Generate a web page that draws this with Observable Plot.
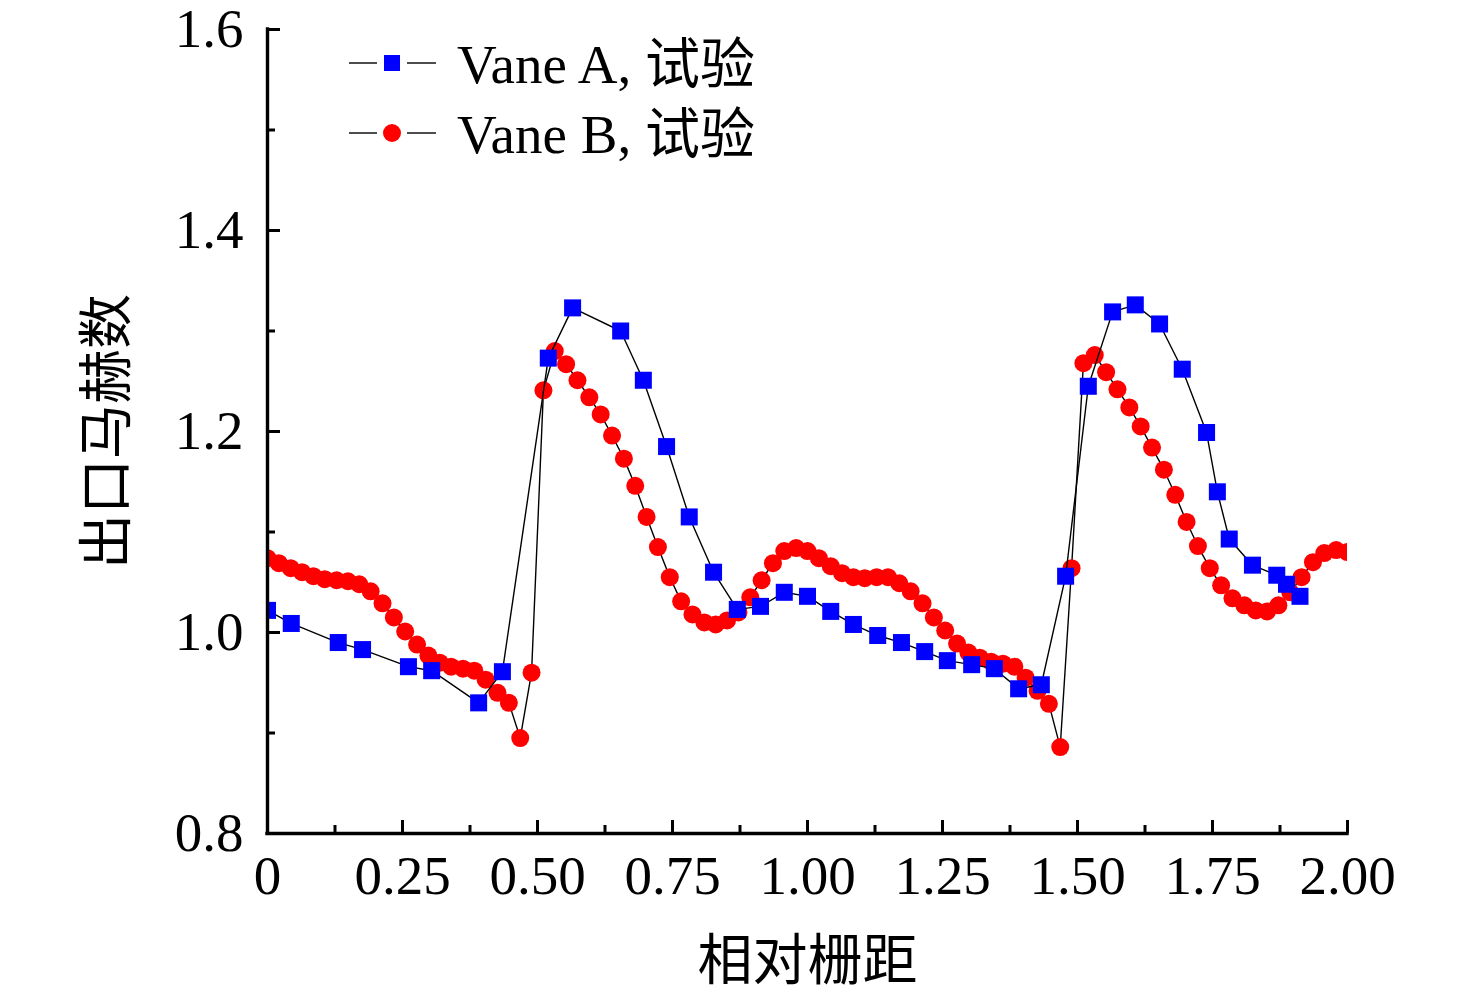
<!DOCTYPE html>
<html>
<head>
<meta charset="utf-8">
<script src="https://cdn.jsdelivr.net/npm/d3@7"></script>
<script src="https://cdn.jsdelivr.net/npm/@observablehq/plot@0.6"></script>
<style>
  body { margin: 0; background: #fff; }
  #chart { width: 1476px; height: 996px; }
</style>
</head>
<body>
<div id="chart"></div>
<script>
// ---- Text ----
const xLabel = "相对栅距";
const yLabel = "出口马赫数";
const seriesNames = ["Vane A, 试验", "Vane B, 试验"];

// ---- Ticks ----
const xTicks = [0, 0.25, 0.5, 0.75, 1.0, 1.25, 1.5, 1.75, 2.0];
const xTickLabels = ["0", "0.25", "0.50", "0.75", "1.00", "1.25", "1.50", "1.75", "2.00"];
const xMinorTicks = [0.125, 0.375, 0.625, 0.875, 1.125, 1.375, 1.625, 1.875];
const yTicks = [0.8, 1.0, 1.2, 1.4, 1.6];
const yTickLabels = ["0.8", "1.0", "1.2", "1.4", "1.6"];
const yMinorTicks = [0.9, 1.1, 1.3, 1.5];

// ---- Vane A (blue squares) ----
const vaneAX = [0.000, 0.044, 0.131, 0.176, 0.261, 0.304, 0.391, 0.435, 0.520, 0.565,
                0.654, 0.696, 0.739, 0.781, 0.826, 0.870, 0.913, 0.957, 1.000, 1.043,
                1.085, 1.130, 1.174, 1.217, 1.259, 1.304, 1.346, 1.391, 1.433, 1.478,
                1.520, 1.565, 1.607, 1.652, 1.694, 1.739, 1.759, 1.781, 1.824, 1.869,
                1.887, 1.912];
const vaneAY = [1.022, 1.009, 0.990, 0.983, 0.966, 0.962, 0.930, 0.961, 1.273, 1.323,
                1.300, 1.251, 1.185, 1.115, 1.060, 1.023, 1.026, 1.040, 1.036, 1.021,
                1.008, 0.997, 0.990, 0.981, 0.972, 0.968, 0.964, 0.944, 0.948, 1.056,
                1.245, 1.319, 1.326, 1.307, 1.262, 1.199, 1.140, 1.093, 1.067, 1.057,
                1.048, 1.036];

// ---- Vane B (red circles) ----
const vaneBX = [0.000, 0.021, 0.043, 0.064, 0.085, 0.106, 0.128, 0.149, 0.170, 0.191,
                0.213, 0.234, 0.255, 0.277, 0.298, 0.319, 0.340, 0.362, 0.383, 0.404,
                0.426, 0.447, 0.468, 0.489, 0.511, 0.532, 0.553, 0.574, 0.596, 0.617,
                0.638, 0.660, 0.681, 0.702, 0.723, 0.745, 0.766, 0.787, 0.809, 0.830,
                0.851, 0.872, 0.894, 0.915, 0.936, 0.957, 0.979, 1.000, 1.021, 1.043,
                1.064, 1.085, 1.106, 1.128, 1.149, 1.170, 1.191, 1.213, 1.234, 1.255,
                1.277, 1.298, 1.319, 1.340, 1.362, 1.383, 1.404, 1.426, 1.447, 1.468,
                1.489, 1.511, 1.532, 1.553, 1.574, 1.596, 1.617, 1.638, 1.660, 1.681,
                1.702, 1.723, 1.745, 1.766, 1.787, 1.809, 1.830, 1.851, 1.872, 1.894,
                1.915, 1.936, 1.957, 1.979, 2.000];
const vaneBY = [1.074, 1.069, 1.064, 1.060, 1.056, 1.053, 1.052, 1.051, 1.048, 1.041,
                1.029, 1.015, 1.001, 0.988, 0.977, 0.970, 0.966, 0.964, 0.962, 0.953,
                0.940, 0.930, 0.895, 0.960, 1.241, 1.280, 1.267, 1.251, 1.234, 1.217,
                1.196, 1.173, 1.146, 1.115, 1.085, 1.055, 1.031, 1.018, 1.010, 1.008,
                1.012, 1.020, 1.035, 1.052, 1.069, 1.081, 1.084, 1.081, 1.074, 1.066,
                1.059, 1.055, 1.054, 1.055, 1.055, 1.049, 1.041, 1.029, 1.015, 1.002,
                0.989, 0.980, 0.975, 0.971, 0.969, 0.966, 0.955, 0.942, 0.929, 0.886,
                1.064, 1.268, 1.276, 1.259, 1.242, 1.224, 1.205, 1.184, 1.162, 1.137,
                1.110, 1.086, 1.064, 1.047, 1.034, 1.027, 1.022, 1.021, 1.027, 1.040,
                1.055, 1.070, 1.079, 1.082, 1.080];

// ---- Build tables ----
const A = vaneAX.map((x, i) => ({x, y: vaneAY[i]}));
const B = vaneBX.map((x, i) => ({x, y: vaneBY[i]}));

const W = 1476, H = 996, mL = 267, mR = 129, mT = 29, mB = 163;
const fw = W - mL - mR, fh = H - mT - mB;
const serif = "'Liberation Serif', 'Times New Roman', serif";
const cjk = "'Noto Sans CJK SC', sans-serif";
const FS = 55;

const plot = Plot.plot({
  width: W, height: H,
  marginLeft: mL, marginRight: mR, marginTop: mT, marginBottom: mB,
  x: {domain: [0, 2]},
  y: {domain: [0.8, 1.6]},
  style: {fontFamily: serif, fontSize: FS + "px", color: "#000", background: "#fff"},
  marks: [
    Plot.line(B, {x: "x", y: "y", stroke: "#000", strokeWidth: 1.4, clip: true}),
    Plot.dot(B, {x: "x", y: "y", r: 9, fill: "#ff0000", symbol: "circle", clip: true}),
    Plot.line(A, {x: "x", y: "y", stroke: "#000", strokeWidth: 1.4, clip: true}),
    Plot.dot(A, {x: "x", y: "y", r: 9.6, fill: "#0000ff", symbol: "square", clip: true}),
    // axis lines
    Plot.ruleX([0], {stroke: "#000", strokeWidth: 3.4, strokeLinecap: "square"}),
    Plot.ruleY([0.8], {stroke: "#000", strokeWidth: 3.4, strokeLinecap: "square"}),
    // inward ticks
    Plot.tickY(yTicks, {y: d => d, insetRight: fw - 13, stroke: "#000", strokeWidth: 3}),
    Plot.tickY(yMinorTicks, {y: d => d, insetRight: fw - 8, stroke: "#000", strokeWidth: 3}),
    Plot.tickX(xTicks, {x: d => d, insetTop: fh - 13, stroke: "#000", strokeWidth: 3}),
    Plot.tickX(xMinorTicks, {x: d => d, insetTop: fh - 8, stroke: "#000", strokeWidth: 3}),
    // tick labels
    Plot.axisY(yTicks, {tickSize: 0, tickPadding: 24, label: null, fontSize: FS,
      tickFormat: d => yTickLabels[yTicks.indexOf(d)]}),
    Plot.axisX(xTicks, {tickSize: 0, tickPadding: 21, label: null, fontSize: FS,
      tickFormat: d => xTickLabels[xTicks.indexOf(d)]}),
    // axis titles
    Plot.text([xLabel], {text: d => d, frameAnchor: "bottom", dy: 128,
      lineAnchor: "middle", textAnchor: "middle", fontSize: 55, fontFamily: cjk}),
    Plot.text([yLabel], {text: d => d, frameAnchor: "left", dx: -160, rotate: -90,
      lineAnchor: "middle", textAnchor: "middle", fontSize: 55, fontFamily: cjk})
  ]
});

// ---- Legend (inside plot area, top left) ----
const svg = d3.select(plot);
const leg = svg.append("g").attr("text-anchor", "start");
const legendRows = [
  {name: seriesNames[0], color: "#0000ff", shape: "square"},
  {name: seriesNames[1], color: "#ff0000", shape: "circle"}
];
legendRows.forEach((r, i) => {
  const cy = 63 + i * 70;
  leg.append("line").attr("x1", 349).attr("x2", 377).attr("y1", cy).attr("y2", cy)
    .attr("stroke", "#000").attr("stroke-width", 1.4);
  leg.append("line").attr("x1", 407).attr("x2", 436).attr("y1", cy).attr("y2", cy)
    .attr("stroke", "#000").attr("stroke-width", 1.4);
  if (r.shape === "square") {
    leg.append("rect").attr("x", 392 - 8).attr("y", cy - 8).attr("width", 16).attr("height", 16)
      .attr("fill", r.color);
  } else {
    leg.append("circle").attr("cx", 392).attr("cy", cy).attr("r", 9).attr("fill", r.color);
  }
  leg.append("text").attr("x", 457).attr("y", cy + 20)
    .attr("text-anchor", "start")
    .attr("font-family", serif + ", " + cjk).attr("font-size", FS).attr("fill", "#000")
    .text(r.name);
});

document.getElementById("chart").appendChild(plot);
</script>
</body>
</html>
